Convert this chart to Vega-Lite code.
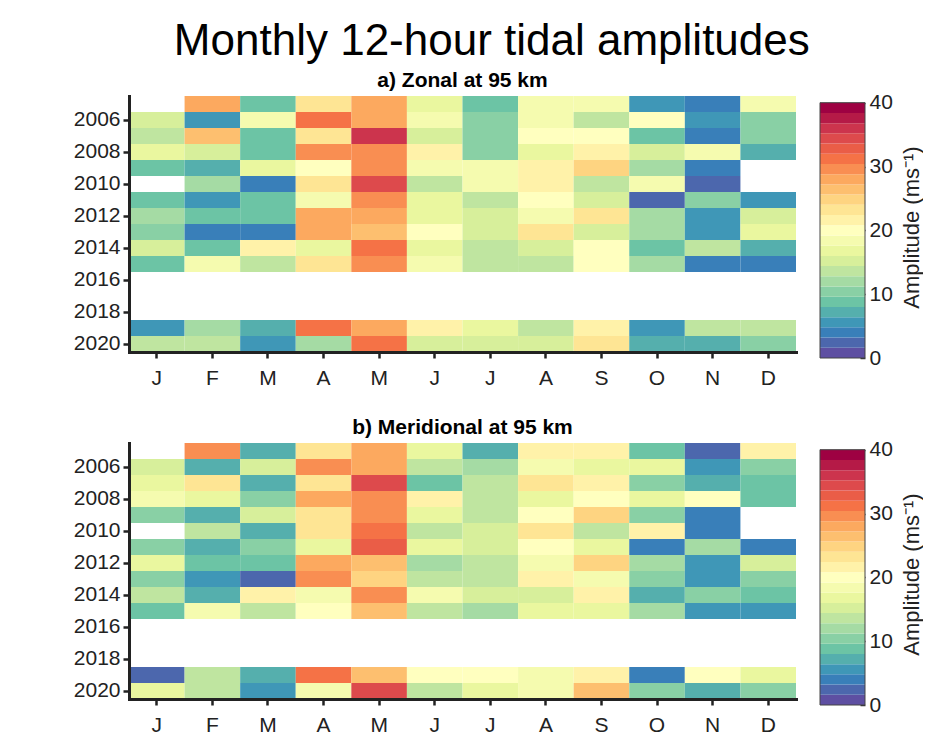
{
  "$schema": "https://vega.github.io/schema/vega-lite/v6.json",
  "background": "white",
  "padding": {"left": 73, "top": 20, "right": 0, "bottom": 0},
  "title": {"text": "Monthly 12-hour tidal amplitudes", "fontSize": 44, "fontWeight": "normal", "font": "Liberation Sans", "color": "#000", "anchor": "middle", "offset": 6, "dx": -6},
  "datasets": {
    "zonal": [
      {"y":2005,"m":2,"v":28.0},{"y":2005,"m":3,"v":8.8},{"y":2005,"m":4,"v":23.2},{"y":2005,"m":5,"v":28.0},{"y":2005,"m":6,"v":16.8},{"y":2005,"m":7,"v":8.8},{"y":2005,"m":8,"v":18.4},{"y":2005,"m":9,"v":18.4},{"y":2005,"m":10,"v":5.6},{"y":2005,"m":11,"v":4.0},{"y":2005,"m":12,"v":18.4},
      {"y":2006,"m":1,"v":15.2},{"y":2006,"m":2,"v":5.6},{"y":2006,"m":3,"v":18.4},{"y":2006,"m":4,"v":31.2},{"y":2006,"m":5,"v":28.0},{"y":2006,"m":6,"v":18.4},{"y":2006,"m":7,"v":10.4},{"y":2006,"m":8,"v":18.4},{"y":2006,"m":9,"v":13.6},{"y":2006,"m":10,"v":20.0},{"y":2006,"m":11,"v":5.6},{"y":2006,"m":12,"v":10.4},
      {"y":2007,"m":1,"v":13.6},{"y":2007,"m":2,"v":26.4},{"y":2007,"m":3,"v":8.8},{"y":2007,"m":4,"v":23.2},{"y":2007,"m":5,"v":36.0},{"y":2007,"m":6,"v":15.2},{"y":2007,"m":7,"v":10.4},{"y":2007,"m":8,"v":20.0},{"y":2007,"m":9,"v":20.0},{"y":2007,"m":10,"v":8.8},{"y":2007,"m":11,"v":4.0},{"y":2007,"m":12,"v":10.4},
      {"y":2008,"m":1,"v":16.8},{"y":2008,"m":2,"v":15.2},{"y":2008,"m":3,"v":8.8},{"y":2008,"m":4,"v":29.6},{"y":2008,"m":5,"v":29.6},{"y":2008,"m":6,"v":21.6},{"y":2008,"m":7,"v":10.4},{"y":2008,"m":8,"v":16.8},{"y":2008,"m":9,"v":21.6},{"y":2008,"m":10,"v":15.2},{"y":2008,"m":11,"v":18.4},{"y":2008,"m":12,"v":7.2},
      {"y":2009,"m":1,"v":8.8},{"y":2009,"m":2,"v":7.2},{"y":2009,"m":3,"v":16.8},{"y":2009,"m":4,"v":20.0},{"y":2009,"m":5,"v":29.6},{"y":2009,"m":6,"v":18.4},{"y":2009,"m":7,"v":18.4},{"y":2009,"m":8,"v":21.6},{"y":2009,"m":9,"v":24.8},{"y":2009,"m":10,"v":12.0},{"y":2009,"m":11,"v":4.0},
      {"y":2010,"m":2,"v":12.0},{"y":2010,"m":3,"v":4.0},{"y":2010,"m":4,"v":23.2},{"y":2010,"m":5,"v":34.4},{"y":2010,"m":6,"v":13.6},{"y":2010,"m":7,"v":18.4},{"y":2010,"m":8,"v":21.6},{"y":2010,"m":9,"v":13.6},{"y":2010,"m":10,"v":18.4},{"y":2010,"m":11,"v":2.4},
      {"y":2011,"m":1,"v":8.8},{"y":2011,"m":2,"v":5.6},{"y":2011,"m":3,"v":8.8},{"y":2011,"m":4,"v":18.4},{"y":2011,"m":5,"v":29.6},{"y":2011,"m":6,"v":16.8},{"y":2011,"m":7,"v":13.6},{"y":2011,"m":8,"v":20.0},{"y":2011,"m":9,"v":15.2},{"y":2011,"m":10,"v":2.4},{"y":2011,"m":11,"v":10.4},{"y":2011,"m":12,"v":5.6},
      {"y":2012,"m":1,"v":12.0},{"y":2012,"m":2,"v":8.8},{"y":2012,"m":3,"v":8.8},{"y":2012,"m":4,"v":28.0},{"y":2012,"m":5,"v":28.0},{"y":2012,"m":6,"v":16.8},{"y":2012,"m":7,"v":15.2},{"y":2012,"m":8,"v":18.4},{"y":2012,"m":9,"v":23.2},{"y":2012,"m":10,"v":12.0},{"y":2012,"m":11,"v":5.6},{"y":2012,"m":12,"v":15.2},
      {"y":2013,"m":1,"v":10.4},{"y":2013,"m":2,"v":4.0},{"y":2013,"m":3,"v":4.0},{"y":2013,"m":4,"v":28.0},{"y":2013,"m":5,"v":26.4},{"y":2013,"m":6,"v":20.0},{"y":2013,"m":7,"v":15.2},{"y":2013,"m":8,"v":23.2},{"y":2013,"m":9,"v":15.2},{"y":2013,"m":10,"v":12.0},{"y":2013,"m":11,"v":5.6},{"y":2013,"m":12,"v":16.8},
      {"y":2014,"m":1,"v":15.2},{"y":2014,"m":2,"v":8.8},{"y":2014,"m":3,"v":21.6},{"y":2014,"m":4,"v":16.8},{"y":2014,"m":5,"v":31.2},{"y":2014,"m":6,"v":16.8},{"y":2014,"m":7,"v":13.6},{"y":2014,"m":8,"v":15.2},{"y":2014,"m":9,"v":20.0},{"y":2014,"m":10,"v":8.8},{"y":2014,"m":11,"v":13.6},{"y":2014,"m":12,"v":7.2},
      {"y":2015,"m":1,"v":8.8},{"y":2015,"m":2,"v":18.4},{"y":2015,"m":3,"v":13.6},{"y":2015,"m":4,"v":23.2},{"y":2015,"m":5,"v":29.6},{"y":2015,"m":6,"v":18.4},{"y":2015,"m":7,"v":13.6},{"y":2015,"m":8,"v":13.6},{"y":2015,"m":9,"v":20.0},{"y":2015,"m":10,"v":12.0},{"y":2015,"m":11,"v":4.0},{"y":2015,"m":12,"v":4.0},
      {"y":2019,"m":1,"v":5.6},{"y":2019,"m":2,"v":12.0},{"y":2019,"m":3,"v":7.2},{"y":2019,"m":4,"v":31.2},{"y":2019,"m":5,"v":28.0},{"y":2019,"m":6,"v":21.6},{"y":2019,"m":7,"v":16.8},{"y":2019,"m":8,"v":13.6},{"y":2019,"m":9,"v":21.6},{"y":2019,"m":10,"v":5.6},{"y":2019,"m":11,"v":13.6},{"y":2019,"m":12,"v":13.6},
      {"y":2020,"m":1,"v":13.6},{"y":2020,"m":2,"v":13.6},{"y":2020,"m":3,"v":5.6},{"y":2020,"m":4,"v":12.0},{"y":2020,"m":5,"v":31.2},{"y":2020,"m":6,"v":15.2},{"y":2020,"m":7,"v":15.2},{"y":2020,"m":8,"v":15.2},{"y":2020,"m":9,"v":23.2},{"y":2020,"m":10,"v":7.2},{"y":2020,"m":11,"v":7.2},{"y":2020,"m":12,"v":10.4}
    ],
    "merid": [
      {"y":2005,"m":2,"v":29.6},{"y":2005,"m":3,"v":7.2},{"y":2005,"m":4,"v":23.2},{"y":2005,"m":5,"v":28.0},{"y":2005,"m":6,"v":16.8},{"y":2005,"m":7,"v":7.2},{"y":2005,"m":8,"v":21.6},{"y":2005,"m":9,"v":21.6},{"y":2005,"m":10,"v":8.8},{"y":2005,"m":11,"v":2.4},{"y":2005,"m":12,"v":21.6},
      {"y":2006,"m":1,"v":15.2},{"y":2006,"m":2,"v":7.2},{"y":2006,"m":3,"v":15.2},{"y":2006,"m":4,"v":29.6},{"y":2006,"m":5,"v":28.0},{"y":2006,"m":6,"v":13.6},{"y":2006,"m":7,"v":12.0},{"y":2006,"m":8,"v":18.4},{"y":2006,"m":9,"v":16.8},{"y":2006,"m":10,"v":16.8},{"y":2006,"m":11,"v":5.6},{"y":2006,"m":12,"v":10.4},
      {"y":2007,"m":1,"v":16.8},{"y":2007,"m":2,"v":23.2},{"y":2007,"m":3,"v":7.2},{"y":2007,"m":4,"v":23.2},{"y":2007,"m":5,"v":34.4},{"y":2007,"m":6,"v":8.8},{"y":2007,"m":7,"v":13.6},{"y":2007,"m":8,"v":23.2},{"y":2007,"m":9,"v":21.6},{"y":2007,"m":10,"v":10.4},{"y":2007,"m":11,"v":7.2},{"y":2007,"m":12,"v":8.8},
      {"y":2008,"m":1,"v":18.4},{"y":2008,"m":2,"v":16.8},{"y":2008,"m":3,"v":10.4},{"y":2008,"m":4,"v":28.0},{"y":2008,"m":5,"v":29.6},{"y":2008,"m":6,"v":21.6},{"y":2008,"m":7,"v":13.6},{"y":2008,"m":8,"v":16.8},{"y":2008,"m":9,"v":20.0},{"y":2008,"m":10,"v":16.8},{"y":2008,"m":11,"v":20.0},{"y":2008,"m":12,"v":8.8},
      {"y":2009,"m":1,"v":10.4},{"y":2009,"m":2,"v":7.2},{"y":2009,"m":3,"v":15.2},{"y":2009,"m":4,"v":23.2},{"y":2009,"m":5,"v":29.6},{"y":2009,"m":6,"v":16.8},{"y":2009,"m":7,"v":13.6},{"y":2009,"m":8,"v":20.0},{"y":2009,"m":9,"v":24.8},{"y":2009,"m":10,"v":10.4},{"y":2009,"m":11,"v":4.0},
      {"y":2010,"m":2,"v":13.6},{"y":2010,"m":3,"v":7.2},{"y":2010,"m":4,"v":23.2},{"y":2010,"m":5,"v":31.2},{"y":2010,"m":6,"v":13.6},{"y":2010,"m":7,"v":15.2},{"y":2010,"m":8,"v":23.2},{"y":2010,"m":9,"v":13.6},{"y":2010,"m":10,"v":21.6},{"y":2010,"m":11,"v":4.0},
      {"y":2011,"m":1,"v":10.4},{"y":2011,"m":2,"v":7.2},{"y":2011,"m":3,"v":10.4},{"y":2011,"m":4,"v":16.8},{"y":2011,"m":5,"v":32.8},{"y":2011,"m":6,"v":16.8},{"y":2011,"m":7,"v":15.2},{"y":2011,"m":8,"v":20.0},{"y":2011,"m":9,"v":16.8},{"y":2011,"m":10,"v":4.0},{"y":2011,"m":11,"v":12.0},{"y":2011,"m":12,"v":4.0},
      {"y":2012,"m":1,"v":16.8},{"y":2012,"m":2,"v":8.8},{"y":2012,"m":3,"v":8.8},{"y":2012,"m":4,"v":28.0},{"y":2012,"m":5,"v":26.4},{"y":2012,"m":6,"v":12.0},{"y":2012,"m":7,"v":13.6},{"y":2012,"m":8,"v":18.4},{"y":2012,"m":9,"v":24.8},{"y":2012,"m":10,"v":12.0},{"y":2012,"m":11,"v":5.6},{"y":2012,"m":12,"v":15.2},
      {"y":2013,"m":1,"v":10.4},{"y":2013,"m":2,"v":5.6},{"y":2013,"m":3,"v":2.4},{"y":2013,"m":4,"v":29.6},{"y":2013,"m":5,"v":24.8},{"y":2013,"m":6,"v":13.6},{"y":2013,"m":7,"v":13.6},{"y":2013,"m":8,"v":21.6},{"y":2013,"m":9,"v":18.4},{"y":2013,"m":10,"v":10.4},{"y":2013,"m":11,"v":5.6},{"y":2013,"m":12,"v":10.4},
      {"y":2014,"m":1,"v":13.6},{"y":2014,"m":2,"v":7.2},{"y":2014,"m":3,"v":21.6},{"y":2014,"m":4,"v":18.4},{"y":2014,"m":5,"v":29.6},{"y":2014,"m":6,"v":18.4},{"y":2014,"m":7,"v":15.2},{"y":2014,"m":8,"v":15.2},{"y":2014,"m":9,"v":21.6},{"y":2014,"m":10,"v":7.2},{"y":2014,"m":11,"v":10.4},{"y":2014,"m":12,"v":8.8},
      {"y":2015,"m":1,"v":8.8},{"y":2015,"m":2,"v":18.4},{"y":2015,"m":3,"v":13.6},{"y":2015,"m":4,"v":20.0},{"y":2015,"m":5,"v":26.4},{"y":2015,"m":6,"v":13.6},{"y":2015,"m":7,"v":12.0},{"y":2015,"m":8,"v":16.8},{"y":2015,"m":9,"v":16.8},{"y":2015,"m":10,"v":12.0},{"y":2015,"m":11,"v":5.6},{"y":2015,"m":12,"v":5.6},
      {"y":2019,"m":1,"v":2.4},{"y":2019,"m":2,"v":13.6},{"y":2019,"m":3,"v":7.2},{"y":2019,"m":4,"v":31.2},{"y":2019,"m":5,"v":26.4},{"y":2019,"m":6,"v":20.0},{"y":2019,"m":7,"v":20.0},{"y":2019,"m":8,"v":18.4},{"y":2019,"m":9,"v":21.6},{"y":2019,"m":10,"v":4.0},{"y":2019,"m":11,"v":20.0},{"y":2019,"m":12,"v":16.8},
      {"y":2020,"m":1,"v":16.8},{"y":2020,"m":2,"v":13.6},{"y":2020,"m":3,"v":5.6},{"y":2020,"m":4,"v":18.4},{"y":2020,"m":5,"v":34.4},{"y":2020,"m":6,"v":13.6},{"y":2020,"m":7,"v":16.8},{"y":2020,"m":8,"v":18.4},{"y":2020,"m":9,"v":26.4},{"y":2020,"m":10,"v":10.4},{"y":2020,"m":11,"v":7.2},{"y":2020,"m":12,"v":10.4}
    ],
    "cbar": [
      {"lo":0,"hi":1.6,"mid":0.8,"c":"bar"},{"lo":1.6,"hi":3.2,"mid":2.4,"c":"bar"},{"lo":3.2,"hi":4.8,"mid":4.0,"c":"bar"},{"lo":4.8,"hi":6.4,"mid":5.6,"c":"bar"},{"lo":6.4,"hi":8.0,"mid":7.2,"c":"bar"},
      {"lo":8.0,"hi":9.6,"mid":8.8,"c":"bar"},{"lo":9.6,"hi":11.2,"mid":10.4,"c":"bar"},{"lo":11.2,"hi":12.8,"mid":12.0,"c":"bar"},{"lo":12.8,"hi":14.4,"mid":13.6,"c":"bar"},{"lo":14.4,"hi":16.0,"mid":15.2,"c":"bar"},
      {"lo":16.0,"hi":17.6,"mid":16.8,"c":"bar"},{"lo":17.6,"hi":19.2,"mid":18.4,"c":"bar"},{"lo":19.2,"hi":20.8,"mid":20.0,"c":"bar"},{"lo":20.8,"hi":22.4,"mid":21.6,"c":"bar"},{"lo":22.4,"hi":24.0,"mid":23.2,"c":"bar"},
      {"lo":24.0,"hi":25.6,"mid":24.8,"c":"bar"},{"lo":25.6,"hi":27.2,"mid":26.4,"c":"bar"},{"lo":27.2,"hi":28.8,"mid":28.0,"c":"bar"},{"lo":28.8,"hi":30.4,"mid":29.6,"c":"bar"},{"lo":30.4,"hi":32.0,"mid":31.2,"c":"bar"},
      {"lo":32.0,"hi":33.6,"mid":32.8,"c":"bar"},{"lo":33.6,"hi":35.2,"mid":34.4,"c":"bar"},{"lo":35.2,"hi":36.8,"mid":36.0,"c":"bar"},{"lo":36.8,"hi":38.4,"mid":37.6,"c":"bar"},{"lo":38.4,"hi":40.0,"mid":39.2,"c":"bar"}
    ],
    "cframe": [{"lo":0,"hi":40,"c":"bar"}]
  },
  "spacing": 29,
  "vconcat": [
    {
      "spacing": 22,
      "resolve": {"scale": {"color": "independent"}},
      "hconcat": [
        {
          "title": {"text": "a)  Zonal at 95 km"},
          "width": 667, "height": 256,
          "data": {"name": "zonal"},
          "mark": "rect",
          "encoding": {
            "x": {"field": "m", "type": "ordinal", "scale": {"domain": [1,2,3,4,5,6,7,8,9,10,11,12], "paddingInner": 0, "paddingOuter": 0},
                  "axis": {"title": null, "labelAngle": 0, "labelExpr": "['J','F','M','A','M','J','J','A','S','O','N','D'][datum.value-1]"}},
            "y": {"field": "y", "type": "ordinal", "scale": {"domain": [2005,2006,2007,2008,2009,2010,2011,2012,2013,2014,2015,2016,2017,2018,2019,2020], "paddingInner": 0, "paddingOuter": 0},
                  "axis": {"title": null, "values": [2006,2008,2010,2012,2014,2016,2018,2020]}},
            "color": {"field": "v", "type": "quantitative", "scale": {"type": "quantize", "domain": [0,40], "range": ["#5e4fa2","#4c67ad","#397fb9","#3f97b7","#55afad","#6cc4a5","#89d0a5","#a5dba4","#bfe5a0","#d7ef9b","#eaf79f","#f5fbaf","#ffffbf","#fff2a9","#fee594","#fed481","#fdbf6f","#fca95f","#f98e52","#f57246","#ea5d47","#dd4a4c","#cc344d","#b51a47","#9e0142"]}, "legend": null}
          }
        },
        {
          "width": 45, "height": 262,
          "data": {"name": "cbar"},
          "layer": [
            {
              "mark": "rect",
              "encoding": {
                "x": {"field": "c", "type": "nominal", "axis": null, "scale": {"paddingInner": 0, "paddingOuter": 0}},
                "y": {"field": "lo", "type": "quantitative", "scale": {"domain": [0, 41.05], "nice": false, "zero": false},
                      "axis": {"orient": "right", "values": [0,10,20,30,40], "domain": false, "ticks": true, "tickSize": -5, "tickWidth": 1.5, "tickColor": "#333", "grid": false, "labelPadding": 9, "labelFontSize": 21, "title": "Amplitude (ms⁻¹)", "titleFontSize": 22, "titleFontWeight": "normal", "titleAngle": 270, "titleBaseline": "top", "titlePadding": 9, "titleColor": "#222"}},
                "y2": {"field": "hi"},
                "color": {"field": "mid", "type": "quantitative", "scale": {"type": "quantize", "domain": [0,40], "range": ["#5e4fa2","#4c67ad","#397fb9","#3f97b7","#55afad","#6cc4a5","#89d0a5","#a5dba4","#bfe5a0","#d7ef9b","#eaf79f","#f5fbaf","#ffffbf","#fff2a9","#fee594","#fed481","#fdbf6f","#fca95f","#f98e52","#f57246","#ea5d47","#dd4a4c","#cc344d","#b51a47","#9e0142"]}, "legend": null}
              }
            },
            {
              "data": {"name": "cframe"},
              "mark": {"type": "rect", "fill": "transparent", "stroke": "#444", "strokeWidth": 1},
              "encoding": {
                "x": {"field": "c", "type": "nominal", "axis": null},
                "y": {"field": "lo", "type": "quantitative"},
                "y2": {"field": "hi"}
              }
            }
          ]
        }
      ]
    },
    {
      "spacing": 22,
      "resolve": {"scale": {"color": "independent"}},
      "hconcat": [
        {
          "title": {"text": "b)  Meridional at 95 km"},
          "width": 667, "height": 256,
          "data": {"name": "merid"},
          "mark": "rect",
          "encoding": {
            "x": {"field": "m", "type": "ordinal", "scale": {"domain": [1,2,3,4,5,6,7,8,9,10,11,12], "paddingInner": 0, "paddingOuter": 0},
                  "axis": {"title": null, "labelAngle": 0, "labelExpr": "['J','F','M','A','M','J','J','A','S','O','N','D'][datum.value-1]"}},
            "y": {"field": "y", "type": "ordinal", "scale": {"domain": [2005,2006,2007,2008,2009,2010,2011,2012,2013,2014,2015,2016,2017,2018,2019,2020], "paddingInner": 0, "paddingOuter": 0},
                  "axis": {"title": null, "values": [2006,2008,2010,2012,2014,2016,2018,2020]}},
            "color": {"field": "v", "type": "quantitative", "scale": {"type": "quantize", "domain": [0,40], "range": ["#5e4fa2","#4c67ad","#397fb9","#3f97b7","#55afad","#6cc4a5","#89d0a5","#a5dba4","#bfe5a0","#d7ef9b","#eaf79f","#f5fbaf","#ffffbf","#fff2a9","#fee594","#fed481","#fdbf6f","#fca95f","#f98e52","#f57246","#ea5d47","#dd4a4c","#cc344d","#b51a47","#9e0142"]}, "legend": null}
          }
        },
        {
          "width": 45, "height": 262,
          "data": {"name": "cbar"},
          "layer": [
            {
              "mark": "rect",
              "encoding": {
                "x": {"field": "c", "type": "nominal", "axis": null, "scale": {"paddingInner": 0, "paddingOuter": 0}},
                "y": {"field": "lo", "type": "quantitative", "scale": {"domain": [0, 41.05], "nice": false, "zero": false},
                      "axis": {"orient": "right", "values": [0,10,20,30,40], "domain": false, "ticks": true, "tickSize": -5, "tickWidth": 1.5, "tickColor": "#333", "grid": false, "labelPadding": 9, "labelFontSize": 21, "title": "Amplitude (ms⁻¹)", "titleFontSize": 22, "titleFontWeight": "normal", "titleAngle": 270, "titleBaseline": "top", "titlePadding": 9, "titleColor": "#222"}},
                "y2": {"field": "hi"},
                "color": {"field": "mid", "type": "quantitative", "scale": {"type": "quantize", "domain": [0,40], "range": ["#5e4fa2","#4c67ad","#397fb9","#3f97b7","#55afad","#6cc4a5","#89d0a5","#a5dba4","#bfe5a0","#d7ef9b","#eaf79f","#f5fbaf","#ffffbf","#fff2a9","#fee594","#fed481","#fdbf6f","#fca95f","#f98e52","#f57246","#ea5d47","#dd4a4c","#cc344d","#b51a47","#9e0142"]}, "legend": null}
              }
            },
            {
              "data": {"name": "cframe"},
              "mark": {"type": "rect", "fill": "transparent", "stroke": "#444", "strokeWidth": 1},
              "encoding": {
                "x": {"field": "c", "type": "nominal", "axis": null},
                "y": {"field": "lo", "type": "quantitative"},
                "y2": {"field": "hi"}
              }
            }
          ]
        }
      ]
    }
  ],
  "config": {
    "font": "Liberation Sans",
    "view": {"stroke": null},
    "axis": {"domainColor": "#222", "domainWidth": 3, "domainCap": "square", "tickColor": "#222", "tickWidth": 2.5, "tickSize": 6, "labelFontSize": 21, "labelColor": "#222", "grid": false},
    "axisX": {"labelPadding": 9},
    "axisY": {"labelPadding": 3},
    "title": {"fontSize": 21, "fontWeight": "bold", "color": "#000", "offset": 5}
  }
}
